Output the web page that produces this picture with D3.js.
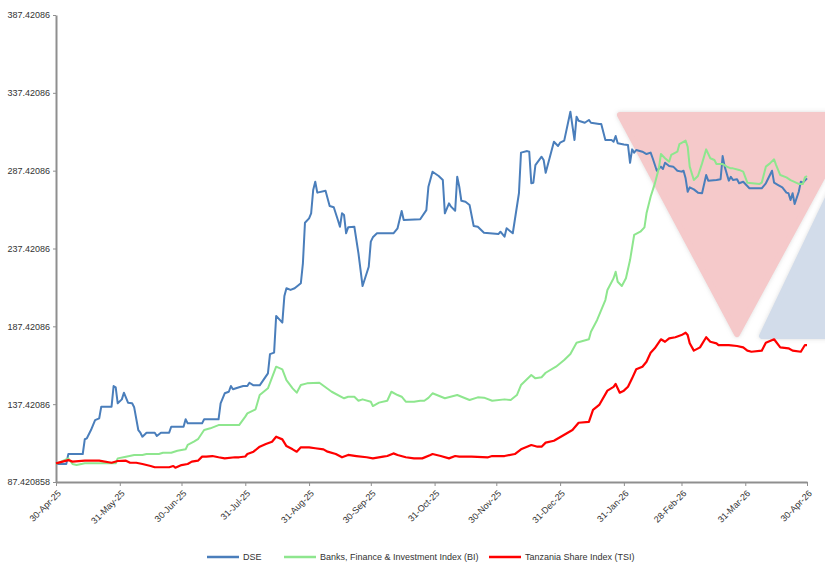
<!DOCTYPE html>
<html>
<head>
<meta charset="utf-8">
<script src="https://cdn.jsdelivr.net/npm/d3@7"></script>
<style>
  body { margin: 0; background: #fff; }
  text { font-family: "Liberation Sans", Arial, sans-serif; }
</style>
</head>
<body>
<svg id="chart"></svg>
<script>
var W = 825, H = 563;
var margin = {top: 15, left: 56, bottom: 81, right: 18};

// tick labels
var yTicks = [87.420858, 137.42086, 187.42086, 237.42086, 287.42086, 337.42086, 387.42086];
var yTickLabels = ["87.420858", "137.42086", "187.42086", "237.42086", "287.42086", "337.42086", "387.42086"];
var xTicks = ["2025-04-30", "2025-05-31", "2025-06-30", "2025-07-31", "2025-08-31", "2025-09-30",
  "2025-10-31", "2025-11-30", "2025-12-31", "2026-01-31", "2026-02-28", "2026-03-31", "2026-04-30"];
var xTickLabels = ["30-Apr-25", "31-May-25", "30-Jun-25", "31-Jul-25", "31-Aug-25", "30-Sep-25",
  "31-Oct-25", "30-Nov-25", "31-Dec-25", "31-Jan-26", "28-Feb-26", "31-Mar-26", "30-Apr-26"];

var seriesNames = ["DSE", "Banks, Finance & Investment Index (BI)", "Tanzania Share Index (TSI)"];
var seriesColors = ["#4a7ebb", "#8ee68e", "#ff0000"];

// DSE
var dse = [
  ["2025-04-30", 99.0], ["2025-05-05", 99.0], ["2025-05-06", 105.4], ["2025-05-13", 105.4],
  ["2025-05-14", 114.9], ["2025-05-15", 115.5], ["2025-05-17", 120.8], ["2025-05-19", 127.2],
  ["2025-05-21", 128.3], ["2025-05-22", 135.8], ["2025-05-27", 135.8], ["2025-05-28", 149.1],
  ["2025-05-29", 148.3], ["2025-05-30", 138.0], ["2025-06-01", 140.5], ["2025-06-02", 144.8],
  ["2025-06-04", 138.4], ["2025-06-06", 138.0], ["2025-06-07", 135.4], ["2025-06-09", 120.8],
  ["2025-06-10", 119.1], ["2025-06-11", 116.5], ["2025-06-13", 119.1], ["2025-06-17", 119.1],
  ["2025-06-18", 117.0], ["2025-06-20", 119.1], ["2025-06-24", 119.1], ["2025-06-25", 122.9],
  ["2025-07-01", 122.9], ["2025-07-02", 127.7], ["2025-07-03", 125.1], ["2025-07-10", 125.1],
  ["2025-07-11", 127.7], ["2025-07-18", 127.7], ["2025-07-19", 138.0], ["2025-07-21", 144.4],
  ["2025-07-23", 145.4], ["2025-07-24", 149.1], ["2025-07-25", 147.0], ["2025-07-28", 148.3],
  ["2025-07-30", 149.1], ["2025-08-01", 149.1], ["2025-08-02", 151.2], ["2025-08-04", 149.5],
  ["2025-08-07", 149.5], ["2025-08-11", 157.2], ["2025-08-12", 169.6], ["2025-08-14", 170.5],
  ["2025-08-15", 194.1], ["2025-08-18", 189.8], ["2025-08-19", 206.9], ["2025-08-20", 211.9],
  ["2025-08-22", 210.8], ["2025-08-24", 211.9], ["2025-08-27", 215.1], ["2025-08-28", 227.9],
  ["2025-08-29", 254.0], ["2025-08-31", 256.8], ["2025-09-01", 260.0], ["2025-09-02", 275.0],
  ["2025-09-03", 280.3], ["2025-09-04", 273.3], ["2025-09-08", 274.5], ["2025-09-10", 264.7],
  ["2025-09-12", 263.9], ["2025-09-14", 255.7], ["2025-09-15", 251.4], ["2025-09-16", 260.0],
  ["2025-09-17", 258.9], ["2025-09-18", 247.2], ["2025-09-19", 251.0], ["2025-09-22", 251.4],
  ["2025-09-24", 234.3], ["2025-09-26", 213.3], ["2025-09-29", 225.7], ["2025-09-30", 241.8],
  ["2025-10-01", 244.6], ["2025-10-03", 247.2], ["2025-10-11", 247.2], ["2025-10-13", 250.4],
  ["2025-10-15", 261.5], ["2025-10-16", 255.7], ["2025-10-24", 256.2], ["2025-10-27", 262.1],
  ["2025-10-28", 277.1], ["2025-10-30", 286.7], ["2025-11-02", 284.0], ["2025-11-04", 281.4],
  ["2025-11-05", 260.0], ["2025-11-07", 266.4], ["2025-11-08", 264.3], ["2025-11-10", 261.7],
  ["2025-11-11", 283.5], ["2025-11-12", 277.1], ["2025-11-13", 268.1], ["2025-11-15", 267.5],
  ["2025-11-17", 265.4], ["2025-11-19", 251.9], ["2025-11-21", 251.4], ["2025-11-24", 247.6],
  ["2025-12-01", 246.7], ["2025-12-02", 248.2], ["2025-12-04", 245.0], ["2025-12-05", 250.4],
  ["2025-12-08", 247.2], ["2025-12-11", 272.9], ["2025-12-12", 299.0], ["2025-12-15", 300.0],
  ["2025-12-16", 299.6], ["2025-12-17", 279.3], ["2025-12-18", 279.7], ["2025-12-19", 291.0],
  ["2025-12-22", 296.4], ["2025-12-23", 294.3], ["2025-12-24", 286.1], ["2025-12-28", 306.0],
  ["2025-12-30", 303.3], ["2025-12-31", 305.4], ["2026-01-02", 306.7], ["2026-01-05", 325.3],
  ["2026-01-07", 307.1], ["2026-01-08", 322.1], ["2026-01-09", 319.5], ["2026-01-12", 318.2],
  ["2026-01-14", 320.0], ["2026-01-15", 318.2], ["2026-01-19", 317.4], ["2026-01-20", 317.4],
  ["2026-01-22", 307.1], ["2026-01-25", 307.1], ["2026-01-26", 306.0], ["2026-01-27", 309.7],
  ["2026-01-28", 305.0], ["2026-01-31", 304.3], ["2026-02-02", 303.9], ["2026-02-03", 292.5],
  ["2026-02-04", 301.1], ["2026-02-05", 299.0], ["2026-02-06", 300.7], ["2026-02-09", 299.6],
  ["2026-02-11", 298.1], ["2026-02-13", 299.0], ["2026-02-14", 295.4], ["2026-02-16", 287.4],
  ["2026-02-18", 290.0], ["2026-02-19", 288.5], ["2026-02-20", 292.5], ["2026-02-22", 290.4],
  ["2026-02-24", 290.0], ["2026-02-26", 287.4], ["2026-02-28", 286.8], ["2026-03-01", 287.4],
  ["2026-03-02", 282.5], ["2026-03-03", 273.9], ["2026-03-04", 276.7], ["2026-03-06", 275.4],
  ["2026-03-08", 273.3], ["2026-03-10", 272.9], ["2026-03-12", 284.6], ["2026-03-13", 281.0],
  ["2026-03-17", 281.4], ["2026-03-19", 281.9], ["2026-03-20", 296.8], ["2026-03-21", 290.0],
  ["2026-03-23", 281.0], ["2026-03-24", 283.5], ["2026-03-25", 281.4], ["2026-03-27", 281.9],
  ["2026-03-28", 279.3], ["2026-03-30", 280.3], ["2026-04-02", 276.1], ["2026-04-08", 276.1],
  ["2026-04-10", 279.3], ["2026-04-13", 287.4], ["2026-04-14", 279.7], ["2026-04-16", 278.2],
  ["2026-04-18", 276.7], ["2026-04-20", 273.3], ["2026-04-21", 272.9], ["2026-04-22", 268.6],
  ["2026-04-23", 272.9], ["2026-04-24", 266.0], ["2026-04-26", 273.9], ["2026-04-27", 280.3],
  ["2026-04-28", 279.7], ["2026-04-30", 282.5]
];

// Banks, Finance & Investment Index (BI)
var bi = [
  ["2025-04-30", 99.0], ["2025-05-06", 102.6], ["2025-05-08", 99.0], ["2025-05-10", 98.3],
  ["2025-05-14", 99.4], ["2025-05-29", 99.4], ["2025-05-30", 102.6], ["2025-06-03", 103.7],
  ["2025-06-07", 104.8], ["2025-06-11", 104.8], ["2025-06-13", 105.4], ["2025-06-19", 105.4],
  ["2025-06-21", 106.2], ["2025-06-25", 106.2], ["2025-06-28", 107.5], ["2025-07-02", 108.4],
  ["2025-07-03", 111.2], ["2025-07-06", 113.3], ["2025-07-08", 114.9], ["2025-07-11", 120.8],
  ["2025-07-14", 121.9], ["2025-07-18", 124.0], ["2025-07-28", 124.0], ["2025-07-31", 129.4],
  ["2025-08-01", 131.5], ["2025-08-05", 134.1], ["2025-08-07", 143.3], ["2025-08-11", 147.6],
  ["2025-08-15", 161.5], ["2025-08-18", 159.8], ["2025-08-20", 152.9], ["2025-08-23", 147.6],
  ["2025-08-25", 144.8], ["2025-08-27", 149.7], ["2025-08-30", 150.8], ["2025-09-05", 151.2],
  ["2025-09-08", 148.3], ["2025-09-11", 145.4], ["2025-09-17", 141.2], ["2025-09-19", 142.2],
  ["2025-09-22", 142.2], ["2025-09-24", 139.6], ["2025-09-26", 140.5], ["2025-09-30", 139.0],
  ["2025-10-01", 136.2], ["2025-10-04", 138.4], ["2025-10-08", 139.6], ["2025-10-10", 145.4],
  ["2025-10-13", 143.3], ["2025-10-15", 142.2], ["2025-10-17", 139.0], ["2025-10-21", 139.0],
  ["2025-10-24", 139.6], ["2025-10-26", 139.6], ["2025-10-28", 141.5], ["2025-10-30", 144.4],
  ["2025-11-05", 141.2], ["2025-11-11", 143.3], ["2025-11-17", 140.1], ["2025-11-21", 141.8],
  ["2025-11-24", 141.6], ["2025-11-28", 139.6], ["2025-12-04", 140.5], ["2025-12-07", 140.1],
  ["2025-12-10", 143.3], ["2025-12-12", 149.7], ["2025-12-17", 156.2], ["2025-12-19", 154.0],
  ["2025-12-22", 154.7], ["2025-12-24", 157.6], ["2025-12-29", 161.5], ["2026-01-02", 165.8],
  ["2026-01-05", 169.6], ["2026-01-08", 176.9], ["2026-01-14", 179.1], ["2026-01-15", 184.0],
  ["2026-01-18", 191.5], ["2026-01-22", 204.3], ["2026-01-23", 210.8], ["2026-01-26", 218.3],
  ["2026-01-27", 222.5], ["2026-01-28", 216.1], ["2026-01-30", 213.3], ["2026-02-01", 218.3],
  ["2026-02-03", 230.0], ["2026-02-05", 246.1], ["2026-02-08", 248.2], ["2026-02-10", 251.0],
  ["2026-02-11", 260.0], ["2026-02-13", 270.7], ["2026-02-15", 278.9], ["2026-02-17", 288.9],
  ["2026-02-18", 298.1], ["2026-02-20", 295.4], ["2026-02-22", 293.2], ["2026-02-23", 297.5],
  ["2026-02-26", 299.6], ["2026-02-27", 304.5], ["2026-03-02", 306.7], ["2026-03-03", 302.8],
  ["2026-03-04", 290.0], ["2026-03-06", 281.4], ["2026-03-08", 284.0], ["2026-03-10", 292.1],
  ["2026-03-12", 301.1], ["2026-03-14", 295.4], ["2026-03-16", 294.3], ["2026-03-17", 291.7],
  ["2026-03-20", 291.7], ["2026-03-22", 290.0], ["2026-03-24", 288.9], ["2026-03-25", 288.9],
  ["2026-03-28", 287.9], ["2026-03-30", 286.8], ["2026-04-01", 279.7], ["2026-04-07", 278.9],
  ["2026-04-08", 279.7], ["2026-04-10", 290.0], ["2026-04-12", 292.1], ["2026-04-14", 294.7],
  ["2026-04-15", 291.0], ["2026-04-17", 284.6], ["2026-04-20", 283.1], ["2026-04-22", 281.4],
  ["2026-04-26", 278.9], ["2026-04-28", 278.9], ["2026-04-29", 283.1], ["2026-04-30", 284.0]
];

// Tanzania Share Index (TSI)
var tsi = [
  ["2025-04-30", 99.4], ["2025-05-06", 101.5], ["2025-05-08", 100.5], ["2025-05-14", 101.1],
  ["2025-05-21", 101.1], ["2025-05-27", 99.8], ["2025-05-30", 100.9], ["2025-06-03", 101.1],
  ["2025-06-05", 99.8], ["2025-06-08", 99.8], ["2025-06-11", 99.0], ["2025-06-15", 97.7],
  ["2025-06-17", 96.9], ["2025-06-24", 96.9], ["2025-06-26", 97.7], ["2025-06-27", 96.6],
  ["2025-06-30", 98.3], ["2025-07-03", 99.0], ["2025-07-05", 100.5], ["2025-07-08", 101.1],
  ["2025-07-10", 103.7], ["2025-07-12", 103.7], ["2025-07-15", 104.1], ["2025-07-18", 103.3],
  ["2025-07-21", 102.6], ["2025-07-26", 103.3], ["2025-07-28", 103.3], ["2025-07-31", 103.8],
  ["2025-08-01", 105.4], ["2025-08-04", 106.9], ["2025-08-07", 110.1], ["2025-08-10", 111.8],
  ["2025-08-13", 113.3], ["2025-08-15", 116.5], ["2025-08-18", 114.8], ["2025-08-20", 110.5],
  ["2025-08-23", 108.4], ["2025-08-25", 106.9], ["2025-08-27", 109.7], ["2025-08-31", 109.7],
  ["2025-09-03", 109.1], ["2025-09-07", 108.4], ["2025-09-09", 106.9], ["2025-09-13", 105.4],
  ["2025-09-16", 103.3], ["2025-09-19", 104.8], ["2025-09-23", 104.1], ["2025-09-28", 103.3],
  ["2025-10-01", 102.6], ["2025-10-06", 103.7], ["2025-10-08", 104.1], ["2025-10-11", 105.8],
  ["2025-10-13", 104.8], ["2025-10-17", 103.3], ["2025-10-21", 102.6], ["2025-10-25", 102.6],
  ["2025-10-29", 104.8], ["2025-10-30", 105.4], ["2025-11-03", 104.1], ["2025-11-07", 102.6],
  ["2025-11-10", 104.1], ["2025-11-12", 103.7], ["2025-11-18", 103.7], ["2025-11-26", 103.3],
  ["2025-11-28", 104.1], ["2025-12-04", 104.1], ["2025-12-09", 105.4], ["2025-12-12", 108.4],
  ["2025-12-17", 111.2], ["2025-12-20", 110.1], ["2025-12-22", 110.1], ["2025-12-24", 112.7],
  ["2025-12-28", 113.9], ["2026-01-01", 117.0], ["2026-01-06", 120.8], ["2026-01-09", 125.5],
  ["2026-01-14", 126.1], ["2026-01-16", 133.7], ["2026-01-19", 136.9], ["2026-01-23", 146.1],
  ["2026-01-26", 148.5], ["2026-01-27", 150.4], ["2026-01-29", 144.8], ["2026-01-31", 146.1],
  ["2026-02-02", 148.6], ["2026-02-04", 154.0], ["2026-02-06", 159.8], ["2026-02-09", 161.5],
  ["2026-02-11", 164.7], ["2026-02-13", 170.5], ["2026-02-15", 173.3], ["2026-02-18", 179.1],
  ["2026-02-20", 177.5], ["2026-02-22", 179.7], ["2026-02-25", 180.4], ["2026-02-28", 181.8],
  ["2026-03-02", 183.3], ["2026-03-03", 181.8], ["2026-03-04", 176.5], ["2026-03-06", 171.8],
  ["2026-03-09", 173.9], ["2026-03-12", 180.4], ["2026-03-14", 177.5], ["2026-03-17", 176.5],
  ["2026-03-18", 175.4], ["2026-03-23", 175.4], ["2026-03-27", 174.8], ["2026-03-30", 173.9],
  ["2026-04-01", 171.8], ["2026-04-03", 171.1], ["2026-04-08", 171.8], ["2026-04-10", 176.9],
  ["2026-04-14", 179.1], ["2026-04-17", 173.9], ["2026-04-21", 173.3], ["2026-04-23", 171.8],
  ["2026-04-27", 171.1], ["2026-04-29", 175.4], ["2026-04-30", 175.4]
];

var parse = d3.utcParse("%Y-%m-%d");
var allSeries = [dse, bi, tsi];

var svg = d3.select("#chart")
  .attr("width", W)
  .attr("height", H);

var x = d3.scaleUtc()
  .domain([parse(xTicks[0]), parse(xTicks[xTicks.length - 1])])
  .range([margin.left, W - margin.right]);

var y = d3.scaleLinear()
  .domain([yTicks[0], yTicks[yTicks.length - 1]])
  .range([H - margin.bottom, margin.top]);

// decorative logo triangles behind the lines
var defs = svg.append("defs");
var f = defs.append("filter").attr("id", "soft")
  .attr("x", "-10%").attr("y", "-10%").attr("width", "120%").attr("height", "120%");
f.append("feDropShadow").attr("dx", 0).attr("dy", 0).attr("stdDeviation", 2)
  .attr("flood-color", "#999").attr("flood-opacity", 0.35);

var logo = svg.append("g").attr("filter", "url(#soft)");
logo.append("polygon")
  .attr("points", "620,115 856,115 737,334")
  .attr("fill", "#f5c9ca")
  .attr("stroke", "#f5c9ca")
  .attr("stroke-width", 6)
  .attr("stroke-linejoin", "round");
logo.append("polygon")
  .attr("points", "762,336 900,336 869,112")
  .attr("fill", "#d2dcea")
  .attr("stroke", "#d2dcea")
  .attr("stroke-width", 6)
  .attr("stroke-linejoin", "round");

// axes
var yAxis = svg.append("g")
  .attr("transform", "translate(" + margin.left + ",0)")
  .call(d3.axisLeft(y)
    .tickValues(yTicks)
    .tickSize(3)
    .tickSizeOuter(0)
    .tickPadding(3)
    .tickFormat(function (d, i) { return yTickLabels[i]; }));

var xAxis = svg.append("g")
  .attr("transform", "translate(0," + (H - margin.bottom) + ")")
  .call(d3.axisBottom(x)
    .tickValues(xTicks.map(parse))
    .tickSize(4)
    .tickSizeOuter(0)
    .tickFormat(function (d, i) { return xTickLabels[i]; }));

xAxis.selectAll("text")
  .attr("y", 0)
  .attr("dy", 0)
  .attr("transform", "translate(5,12) rotate(-45)")
  .style("text-anchor", "end");

[xAxis, yAxis].forEach(function (a) {
  a.select(".domain").attr("stroke", "#8f8f8f").attr("stroke-width", 2);
  a.selectAll(".tick line").attr("stroke", "#8f8f8f");
  a.selectAll("text").attr("fill", "#333").style("font-size", "9px")
    .style("font-family", '"Liberation Sans", Arial, sans-serif');
});

// lines
var line = d3.line()
  .x(function (d) { return x(parse(d[0])); })
  .y(function (d) { return y(d[1]); });

[dse, bi, tsi].forEach(function (s, i) {
  svg.append("path")
    .datum(s)
    .attr("fill", "none")
    .attr("stroke", seriesColors[i])
    .attr("stroke-width", i === 2 ? 2.2 : 2)
    .attr("stroke-linejoin", "round")
    .attr("d", line);
});

// legend
var legendX = [207, 284, 489];
var legend = svg.append("g").attr("transform", "translate(0,557)");
seriesNames.forEach(function (name, i) {
  legend.append("line")
    .attr("x1", legendX[i]).attr("x2", legendX[i] + 32)
    .attr("y1", 0).attr("y2", 0)
    .attr("stroke", seriesColors[i])
    .attr("stroke-width", 2.5);
  legend.append("text")
    .attr("x", legendX[i] + 36)
    .attr("y", 0)
    .attr("dy", "0.35em")
    .attr("fill", "#333")
    .style("font-size", "9px")
    .text(name);
});
</script>
</body>
</html>
